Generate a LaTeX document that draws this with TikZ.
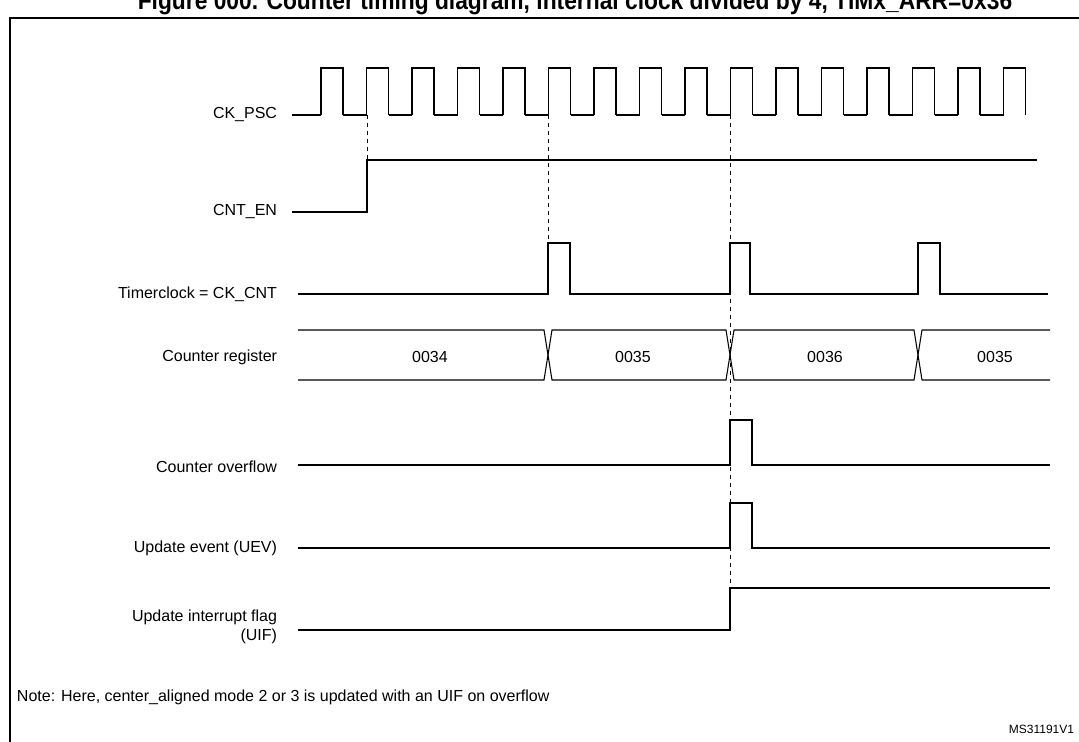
\documentclass[tikz,border=0pt]{standalone}
\usepackage{fontspec}
\setmainfont{Liberation Sans}
\begin{document}
\begin{tikzpicture}[x=0.75pt, y=-0.75pt, line width=0.8pt,
    siglabel/.style={anchor=east, font=\fontsize{12}{14}\selectfont, align=right},
    val/.style={font=\fontsize{12}{14}\selectfont},
    guide/.style={dashed, line width=0.6pt}]
    \useasboundingbox (0, 0) rectangle (1079, 742);
    \node[anchor=south, font=\bfseries\fontsize{19}{21}\selectfont, xscale=0.9, inner sep=0pt] (title) at (575, 15){Figure 000. Counter timing diagram, internal clock divided by 4, TIMx\_ARR=0x36};
    \draw[line width=1pt](10, 760)--(10, 18)--(1090, 18);

    % signal names
    \node[siglabel] (ckpsc) at (282, 115){CK\_PSC};
    \node[siglabel] (cnten) at (282, 212){CNT\_EN};
    \node[siglabel] (tclk) at (282, 294){Timerclock = CK\_CNT};
    \node[siglabel] (creg) at (282, 357){Counter register};
    \node[siglabel] (cov) at (282, 467){Counter overflow};
    \node[siglabel] (uev) at (282, 548){Update event (UEV)};
    \node[siglabel] (uif) at (282, 627){Update interrupt flag\\(UIF)};

    % CK_PSC
    \draw(292, 115)--(321, 115);
    \foreach \i in {0,...,15}{
        \pgfmathsetmacro{\xa}{321+45.5*\i}
        \pgfmathsetmacro{\xb}{\xa+22}
        \pgfmathsetmacro{\xc}{\xa+45.5}
        \draw(\xa, 115)--(\xa, 68)--(\xb, 68)--(\xb, 115);
        \ifnum\i<15 \draw(\xb, 115)--(\xc, 115); \fi
    }

    % CNT_EN
    \draw(292, 212)--(367, 212)--(367, 160)--(1037, 160);

    % Timerclock
    \draw(298, 294)--(548, 294)--(548, 243)--(570, 243)--(570, 294)
        --(730, 294)--(730, 243)--(750, 243)--(750, 294)
        --(918, 294)--(918, 243)--(940, 243)--(940, 294)--(1048, 294);

    % Counter register
    \draw(298, 330)--(544, 330)--(552, 380)--(726, 380)--(734, 330)--(914, 330)--(922, 380)--(1050, 380);
    \draw(298, 380)--(544, 380)--(552, 330)--(726, 330)--(734, 380)--(914, 380)--(922, 330)--(1050, 330);
    \node[val] (v0) at (430, 357){0034};
    \node[val] (v1) at (633, 357){0035};
    \node[val] (v2) at (825, 357){0036};
    \node[val] (v3) at (995, 357){0035};

    % Counter overflow
    \draw(298, 465)--(730, 465)--(730, 420)--(752, 420)--(752, 465)--(1050, 465);

    % UEV
    \draw(298, 548)--(730, 548)--(730, 503)--(752, 503)--(752, 548)--(1050, 548);

    % UIF
    \draw(298, 630)--(730, 630)--(730, 588)--(1050, 588);

    % guides
    \draw[guide](367, 115)--(367, 212);
    \draw[guide](548, 115)--(548, 294);
    \draw[guide](730, 115)--(730, 630);

    \node[anchor=west, val] (note) at (12, 697){Note: Here, center\_aligned mode 2 or 3 is updated with an UIF on overflow};
    \node[anchor=east, font=\fontsize{9}{11}\selectfont] (ref) at (1079, 729){MS31191V1};
\end{tikzpicture}
\end{document}
